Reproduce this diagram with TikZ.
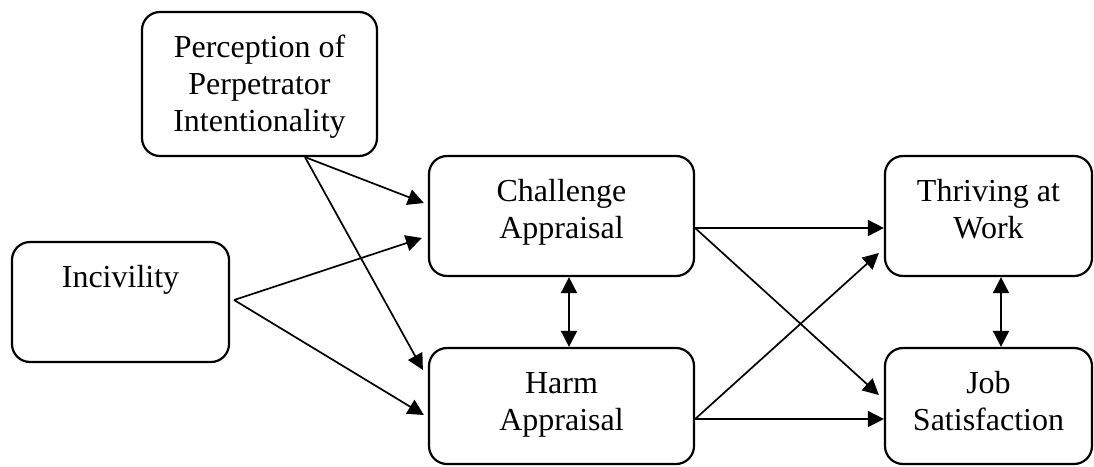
\documentclass[tikz,border=0pt]{standalone}
\usepackage{fontspec}
\setmainfont{Liberation Serif}
\usetikzlibrary{arrows.meta,calc}

% Box contents: fixed-size paragraph, text set from the top with a fixed first baseline
\newcommand{\boxlabel}[3]{\parbox[c][#2][t]{#1}{\centering\fontsize{32}{37}\selectfont\rule{0pt}{45pt}#3\par}}

\tikzset{
  varbox/.style={draw, rounded corners=18pt, inner sep=0pt, line width=2.2pt},
  effect/.style={line width=1.7pt, -{Triangle[length=16pt,width=16pt]}},
  corr/.style={line width=1.7pt, {Triangle[length=16pt,width=16pt]}-{Triangle[length=16pt,width=16pt]}}
}

\begin{document}
\begin{tikzpicture}[x=1pt, y=-1pt]
  \useasboundingbox (0,0) rectangle (1094,466);

  % Variables
  \node[varbox] (P) at (259.5,84)  {\boxlabel{235pt}{144pt}{Perception of\\Perpetrator\\Intentionality}};
  \node[varbox] (I) at (120.5,302) {\boxlabel{217pt}{120pt}{Incivility}};
  \node[varbox] (C) at (561.5,216) {\boxlabel{265pt}{120pt}{Challenge\\Appraisal}};
  \node[varbox] (H) at (561.5,406) {\boxlabel{265pt}{116pt}{Harm\\Appraisal}};
  \node[varbox] (T) at (988.5,216) {\boxlabel{207pt}{120pt}{Thriving at\\Work}};
  \node[varbox] (J) at (988.5,406) {\boxlabel{207pt}{116pt}{Job\\Satisfaction}};

  % Predictors to appraisals
  \draw[effect] ($(P.south)+(45.5,0)$) -- ($(C.west)+(-4,-13)$);
  \draw[effect] ($(P.south)+(45.5,0)$) -- ($(H.west)+(-5,-36)$);
  \draw[effect] ($(I.east)+(4,-2)$) -- ($(C.west)+(-6,22)$);
  \draw[effect] ($(I.east)+(4,-2)$) -- ($(H.west)+(-4,9)$);

  % Appraisals to outcomes
  \draw[effect] ($(C.east)+(0,12)$) -- ($(T.west)+(0,12)$);
  \draw[effect] ($(C.east)+(0,12)$) -- ($(J.west)+(-5,-11)$);
  \draw[effect] ($(H.east)+(0,13)$) -- ($(T.west)+(-5,37)$);
  \draw[effect] ($(H.east)+(0,13)$) -- ($(J.west)+(0,13)$);

  % Correlations
  \draw[corr] ($(C.south)+(7.5,0)$) -- ($(H.north)+(7.5,0)$);
  \draw[corr] ($(T.south)+(12.5,0)$) -- ($(J.north)+(12.5,0)$);
\end{tikzpicture}
\end{document}
